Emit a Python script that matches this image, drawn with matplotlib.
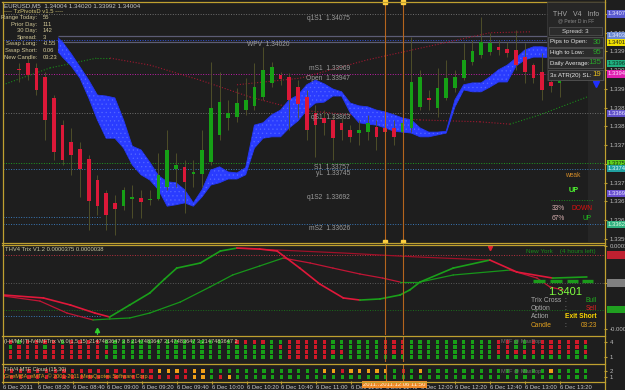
import matplotlib
matplotlib.use('Agg')
import matplotlib.pyplot as plt
from matplotlib.lines import Line2D
from matplotlib.patches import Rectangle
from matplotlib.transforms import blended_transform_factory as blend
import numpy as np

plt.rcParams['font.family'] = ['Liberation Sans', 'DejaVu Sans']
plt.rcParams['hatch.linewidth'] = 0.4

# ---------------- data ----------------
symbol_line = "EURUSD,M5  1.34004 1.34020 1.33992 1.34004"
bar_index = list(range(63))
open_ = [1.33958, 1.33970, 1.33960, 1.33941, 1.33896, 1.33838, 1.33802, 1.33787, 1.33766, 1.33721,
         1.33693, 1.33672, 1.33665, 1.33680, 1.33683, 1.33678, 1.33680, 1.33706, 1.33744, 1.33749,
         1.33734, 1.33734, 1.33759, 1.33817, 1.33853, 1.33855, 1.33870, 1.33879, 1.33898, 1.33928,
         1.33945, 1.33941, 1.33919, 1.33898, 1.33864, 1.33853, 1.33849, 1.33843, 1.33828, 1.33821,
         1.33823, 1.33834, 1.33832, 1.33832, 1.33823, 1.33832, 1.33877, 1.33896, 1.33875, 1.33896,
         1.33917, 1.33938, 1.33973, 1.33988, 1.33994, 1.34005, 1.34000, 1.33998, 1.33983, 1.33966,
         1.33951, 1.33930, 1.33928]
close_ = [1.33955, 1.33945, 1.33913, 1.33849, 1.33781, 1.33764, 1.33774, 1.33744, 1.33676, 1.33665,
          1.33646, 1.33659, 1.33700, 1.33685, 1.33674, 1.33680, 1.33732, 1.33785, 1.33753, 1.33717,
          1.33738, 1.33785, 1.33875, 1.33887, 1.33864, 1.33885, 1.33892, 1.33919, 1.33956, 1.33962,
          1.33936, 1.33892, 1.33883, 1.33828, 1.33838, 1.33843, 1.33810, 1.33828, 1.33813, 1.33828,
          1.33843, 1.33813, 1.33823, 1.33813, 1.33843, 1.33930, 1.33941, 1.33892, 1.33917, 1.33938,
          1.33941, 1.33977, 1.33996, 1.34015, 1.34013, 1.33998, 1.33992, 1.33966, 1.33951, 1.33938,
          1.33913, 1.33921, 1.33930]
high_ = [1.33970, 1.33981, 1.33970, 1.33951, 1.33902, 1.33849, 1.33832, 1.33802, 1.33774, 1.33732,
         1.33700, 1.33689, 1.33706, 1.33710, 1.33700, 1.33700, 1.33778, 1.33828, 1.33778, 1.33764,
         1.33764, 1.33828, 1.33973, 1.33951, 1.33892, 1.33917, 1.33938, 1.33970, 1.34005, 1.33973,
         1.33951, 1.33949, 1.33934, 1.33913, 1.33881, 1.33870, 1.33860, 1.33853, 1.33838, 1.33849,
         1.33860, 1.33849, 1.33845, 1.33849, 1.33860, 1.34026, 1.33956, 1.33913, 1.33960, 1.33977,
         1.33956, 1.34013, 1.34020, 1.34069, 1.34035, 1.34020, 1.34015, 1.34041, 1.34013, 1.33970,
         1.33992, 1.33945, 1.33934]
low_ = [1.33930, 1.33934, 1.33902, 1.33806, 1.33764, 1.33753, 1.33732, 1.33685, 1.33614, 1.33646,
        1.33614, 1.33604, 1.33657, 1.33640, 1.33640, 1.33668, 1.33678, 1.33700, 1.33706, 1.33650,
        1.33706, 1.33706, 1.33753, 1.33806, 1.33828, 1.33845, 1.33860, 1.33870, 1.33892, 1.33919,
        1.33924, 1.33828, 1.33853, 1.33806, 1.33770, 1.33817, 1.33764, 1.33806, 1.33802, 1.33796,
        1.33806, 1.33785, 1.33806, 1.33796, 1.33813, 1.33823, 1.33870, 1.33870, 1.33855, 1.33892,
        1.33909, 1.33934, 1.33966, 1.33981, 1.33988, 1.33988, 1.33983, 1.33956, 1.33928, 1.33928,
        1.33892, 1.33909, 1.33898]

cloud_x = [4.5] + list(range(5, 62))
cloud_hi = [1.34024, 1.34015, 1.33990, 1.33962, 1.33934, 1.33902, 1.33900, 1.33896, 1.33849, 1.33793,
            1.33785, 1.33759, 1.33730, 1.33717, 1.33715, 1.33700, 1.33672, 1.33700, 1.33742, 1.33749,
            1.33738, 1.33736, 1.33747, 1.33838, 1.33843, 1.33860, 1.33870, 1.33892, 1.33902, 1.33924,
            1.33934, 1.33926, 1.33915, 1.33909, 1.33885, 1.33879, 1.33877, 1.33870, 1.33866, 1.33860,
            1.33853, 1.33849, 1.33832, 1.33823, 1.33823, 1.33825, 1.33892, 1.33924, 1.33928, 1.33928,
            1.33941, 1.33956, 1.33966, 1.33981, 1.33998, 1.34005, 1.34005, 1.34002]
cloud_lo = [1.33994, 1.33983, 1.33964, 1.33938, 1.33896, 1.33849, 1.33810, 1.33810, 1.33789, 1.33753,
            1.33732, 1.33721, 1.33700, 1.33665, 1.33668, 1.33672, 1.33665, 1.33685, 1.33710, 1.33715,
            1.33723, 1.33723, 1.33732, 1.33789, 1.33810, 1.33813, 1.33813, 1.33832, 1.33847, 1.33870,
            1.33885, 1.33887, 1.33900, 1.33900, 1.33864, 1.33843, 1.33840, 1.33838, 1.33832, 1.33825,
            1.33823, 1.33821, 1.33813, 1.33813, 1.33817, 1.33821, 1.33877, 1.33913, 1.33909, 1.33909,
            1.33919, 1.33930, 1.33930, 1.33964, 1.33977, 1.33983, 1.33983, 1.33981]

level_names = ['q1S1', 'WPV', 'mS1', 'Open', 'qS1', 'S1', 'yL', 'q1S2', 'mS2']
level_prices = [1.34075, 1.34020, 1.33969, 1.33947, 1.33863, 1.33757, 1.33745, 1.33692, 1.33626]
spread_prices = [1.34028, 1.34015]

ma1_x = [-1.83, 3.56, 8.94, 10.44, 15.02, 20.76, 26.49, 32.22, 37.96, 45.99, 49.43, 52.87, 56.31, 59.75, 65.14]
ma1_p = [1.33924, 1.33960, 1.33981, 1.33981, 1.33966, 1.33934, 1.33898, 1.33870, 1.33860, 1.33849,
         1.33847, 1.33845, 1.33840, 1.33860, 1.33898]
ma2_x = [25.0, 32.22, 39.91, 45.99, 54.01, 58.6]
ma2_p = [1.33924, 1.33938, 1.33977, 1.34002, 1.34035, 1.34037]

price_ticks = [1.34075, 1.34035, 1.33995, 1.33955, 1.33915, 1.33875, 1.33835,
               1.33795, 1.33755, 1.33715, 1.33675, 1.33635, 1.33595]
axis_box_prices = [1.34075, 1.34030, 1.34014, 1.33969, 1.33947, 1.33863, 1.33757, 1.33745, 1.33692, 1.33626]

trix_fast_x = [-1.8, 2.8, 5.9, 8.7, 10.4, 12.7, 15.0, 16.7, 18.1, 20.8, 23.1, 25.0, 27.6, 29.6,
               32.2, 34.5, 37.2, 39.1, 41.4, 43.7, 44.8, 46.0, 49.8, 54.0, 57.1, 61.2, 65.1]
trix_fast_v = [-109, -136, -200, -273, -309, -200, -91, 36, 136, 182, 291, 318, 309, 291,
               136, -9, -136, -155, -145, -109, -64, 9, 136, 209, 100, 45, 55]
trix_slow_x = [-1.8, 2.4, 5.5, 8.5, 10.4, 12.7, 15.0, 18.5, 21.9, 24.5, 27.6, 30.3, 33.4, 36.0,
               39.1, 41.7, 43.7, 46.0, 49.8, 56.3, 59.4, 60.9, 62.4]
trix_slow_v = [-118, -164, -273, -336, -327, -318, -273, -173, -36, 73, 155, 227, 182, 136,
               82, 45, 9, 9, 73, 118, 45, -36, -64]
trix_htf_x = [25.0, 32.2, 37.2, 43.7, 46.0, 54.0]
trix_htf_v = [318, 291, 273, 245, 236, 209]
trix_levels = [0.000255, 0.0, -0.000245]
trix_ticks = [0.000335, 0.0, -0.00042]
trix_tick_labels = ['0.000335', '0.00', '-0.00042']
dash_start = [58.94, 60.89, 62.84, 64.56]
dash_end = [60.32, 62.27, 64.10, 65.83]

dot_cols = list(range(-2, 66))
dot_rows = [
    "rrgrrrrgrrrr" + "gggggggggggg" + "gggrrrrggrrrrrggggggrrrgg" + "gggggggg" + "rrggrrrrrrr",
    "rgrrrgrrrrrr" + "gggggggggggg" + "ggggggggrrrrrrggggggrrrgg" + "gggggggg" + "rrggrrrrrrg",
    "rrrrrrrrrrrrr" + "ggggggggggg" + "ggggggggg" + "rrrrrrr" + "gggg" + "rrr" + "gg" + "gggggggg" + "rrrrrrrrrgr",
    "rrrrrrrrrrrr" + "gggggggggggg" + "ggggggggg" + "rrrrr" + "ggggggggggg" + "g" * 19,
]
cloud_rows = [
    "r" * 18 + "oooroo" + "ggggggggggggg" + "oo" + "r" + "ooooo" + "g" + "r" + "g" + "o" + "g" * 14 + "o" + "gggg",
    "r" * 18 + "rrrroo" + "gro" + "g" * 22 + "g" * 19,
]

time_tick_bars = [-2, 2, 6, 10, 14, 18, 22, 26, 30, 34, 38, 42, 46, 50, 54, 58, 62]
time_tick_labels = ['6 Dec 2011', '6 Dec 08:20', '6 Dec 08:40', '6 Dec 09:00', '6 Dec 09:20',
                    '6 Dec 09:40', '6 Dec 10:00', '6 Dec 10:20', '6 Dec 10:40', '6 Dec 11:00',
                    '6 Dec 11:20', '6 Dec 11:40', '6 Dec 12:00', '6 Dec 12:20', '6 Dec 12:40',
                    '6 Dec 13:00', '6 Dec 13:20']
vline_bars = [42, 44]
vline_labels = ['2011.12.06 11:40', '2011.12.06 11:50']

pivot_labels = ['Range Today:', 'Prior Day:', '30 Day:', 'Spread:', 'Swap Long:', 'Swap Short:', 'New Candle:']
pivot_values = ['55', '111', '142', '3', '-0.55', '0.06', '03:23']
info_labels = ['Pips to Open:', 'High to Low:', 'Daily Average:', '3x ATR(20) SL:']
info_values = ['30', '95', '135', '19']

# ---------------- style ----------------
W, H = 625, 390
BG = '#1e1e1e'
GOLD = '#bfa030'
GRN = '#16a016'
RED = '#dc1838'
WICK = '#55552a'
XMIN, XMAX = -1.83, 67.09

fig = plt.figure(figsize=(W / 100, H / 100), dpi=100, facecolor=BG)


def pax(x0, y0, x1, y1):
    a = fig.add_axes([x0 / W, 1 - y1 / H, (x1 - x0) / W, (y1 - y0) / H])
    a.set_facecolor(BG)
    for s in a.spines.values():
        s.set_visible(False)
    a.set_xlim(XMIN, XMAX)
    a.set_xticks([])
    return a


def T(x, y, s, **kw):
    kw.setdefault('va', 'center')
    kw.setdefault('fontsize', 4.3)
    kw.setdefault('zorder', 7)
    return fig.text(x / W, 1 - y / H, s, **kw)


def R(x0, y0, x1, y1, **kw):
    fig.add_artist(Rectangle((x0 / W, 1 - y1 / H), (x1 - x0) / W, (y1 - y0) / H,
                             transform=fig.transFigure, **kw))


def L(x0, y0, x1, y1, **kw):
    fig.add_artist(Line2D([x0 / W, x1 / W], [1 - y0 / H, 1 - y1 / H], transform=fig.transFigure, **kw))


def slope_lines(a, xs, vs, up_col, dn_col, **kw):
    for k in range(len(xs) - 1):
        col = up_col if vs[k + 1] >= vs[k] else dn_col
        a.plot(xs[k:k + 2], vs[k:k + 2], color=col, **kw)


DOT = (0, (1, 1.6))

# ---------------- main price panel ----------------
ax = pax(3, 2, 604, 242)
ax.set_ylim(1.335886, 1.341006)
ax.axvspan(65.25, XMAX, ymin=0, ymax=0.675, color='#262626', zorder=0.2, lw=0)

level_colors = ['#6e6e6e', '#3050d8', None, '#c020a8', '#6e6e6e', '#209a20', '#3a78b8', None, '#3a78b8']
level_label_x = [37.96, 31.08, 37.96, 37.96, 37.96, 37.96, 37.96, 37.96, 37.96]
for name, p, col, lx in zip(level_names, level_prices, level_colors, level_label_x):
    if col:
        ax.axhline(p, color=col, lw=0.7, ls=DOT, zorder=1)
    ax.text(lx, p - 0.00002, f"{name}  {p:.5f}", ha='right', va='top', fontsize=4.8,
            color='#9c9c9c', zorder=8)
ax.hlines(1.33642, XMIN, 9.3, color='#3a78b8', lw=0.7, ls=DOT, zorder=1)
ax.hlines(spread_prices, 4.5, XMAX, color='#5c5c74', lw=0.9, zorder=1.5)

slope_lines(ax, ma1_x, ma1_p, '#1a8a1a', '#a01830', lw=0.8, ls=DOT, zorder=1.6)
ax.plot(ma2_x, ma2_p, color='#a01830', lw=0.8, ls=DOT, zorder=1.6)

ax.fill_between(cloud_x, cloud_lo, cloud_hi, facecolor='#2a3cff', edgecolor='#5468ff',
                hatch='....', lw=0, zorder=2)
ax.plot(cloud_x, cloud_hi, color='#2436f0', lw=0.6, zorder=2.1)
ax.plot(cloud_x, cloud_lo, color='#2436f0', lw=0.6, zorder=2.1)

o = np.array(open_)
c = np.array(close_)
hh = np.array(high_)
ll = np.array(low_)
xb = np.array(bar_index)
up = c >= o
bottom = np.minimum(o, c)
height = np.maximum(np.abs(c - o), 0.00003)
ax.vlines(xb, ll, hh, color=WICK, lw=0.6, zorder=4)
ax.bar(xb[up], height[up], bottom=bottom[up], width=0.42, color=GRN, lw=0, zorder=5)
ax.bar(xb[~up], height[~up], bottom=bottom[~up], width=0.42, color=RED, lw=0, zorder=5)

ax.plot([66.17], [1.33926], marker='v', ms=4.5, color='#2030ff', zorder=6, clip_on=False)

ax.yaxis.tick_right()
ax.set_yticks(price_ticks)
ax.set_yticklabels([f"{p:.5f}" for p in price_ticks])
ax.tick_params(axis='y', length=2, color=GOLD, labelsize=4.4, labelcolor='#bdbdbd', pad=2)

box_colors = ['#5a5ad0', '#6c8ad0', '#f0e000', '#20b080', '#e020b0', '#6050c8', '#60d020',
              '#20a0a0', '#6a50d0', '#30b080']
box_text = ['#e8e8ff', '#e8e8ff', '#202020', '#103020', '#ffe0ff', '#e8e8ff', '#103010',
            '#e0ffff', '#e8e8ff', '#e0ffe0']
trm = blend(ax.transAxes, ax.transData)
for p, bc, tc in zip(axis_box_prices, box_colors, box_text):
    ax.text(1.006, p, f"{p:.5f}", transform=trm, fontsize=4.2, color=tc, va='center', ha='left',
            bbox=dict(boxstyle='square,pad=0.18', fc=bc, ec='none'), clip_on=False, zorder=9)

# ---------------- trix panel ----------------
ax_t = pax(3, 244, 604, 335)
ax_t.set_ylim(-0.000473, 0.000355)
ax_t.axhline(trix_levels[0], color='#b83040', lw=0.7, ls=DOT)
ax_t.axhline(trix_levels[1], color='#5a5a5a', lw=0.7, ls=DOT)
ax_t.axhline(trix_levels[2], color='#1a701a', lw=0.7, ls=DOT)
ax_t.hlines(-0.0003, XMIN, 9.3, color='#3a78b8', lw=0.7, ls=DOT)
fx = trix_fast_x
fv = [v * 1e-6 for v in trix_fast_v]
sx = trix_slow_x
sv = [v * 1e-6 for v in trix_slow_v]
slope_lines(ax_t, sx, sv, '#17961a', '#c01535', lw=0.9, zorder=3)
slope_lines(ax_t, fx, fv, '#1aa01a', '#e0183a', lw=1.2, zorder=3.2)
ax_t.plot(trix_htf_x, [v * 1e-6 for v in trix_htf_v], color='#a01028', lw=0.9, zorder=2.8)
ax_t.hlines([0.000018] * 4, dash_start, dash_end, color='#1a9a1a', lw=2.4, zorder=4)
ax_t.plot([9, 9], [-0.000462, -0.000425], color='#30d030', lw=0.8)
ax_t.plot([9], [-0.000425], marker='^', ms=3, color='#30d030')
ax_t.plot([54, 54], [0.000350, 0.000318], color='#e02030', lw=0.8, clip_on=False)
ax_t.plot([54], [0.000318], marker='v', ms=3, color='#e02030')
ax_t.yaxis.tick_right()
ax_t.set_yticks(trix_ticks)
ax_t.set_yticklabels(trix_tick_labels)
ax_t.tick_params(axis='y', length=2, color=GOLD, labelsize=4.3, labelcolor='#bdbdbd', pad=2)
trt = blend(ax_t.transAxes, ax_t.transData)
for v, bc in zip(trix_levels, ['#c02030', '#808080', '#20a020']):
    ax_t.text(1.006, v, f"{v:.5f}", transform=trt, fontsize=4.2, color=bc, va='center', ha='left',
              bbox=dict(boxstyle='square,pad=0.18', fc=bc, ec='none'), clip_on=False, zorder=9)

# ---------------- dots panel ----------------
dot_color = {'g': '#17a017', 'r': '#d01828', 'o': '#f0a018'}
ax_d = pax(3, 336, 604, 362)
ax_d.set_ylim(0, 5.2)
for r, row in enumerate(dot_rows):
    ax_d.scatter(dot_cols, [4 - r] * len(dot_cols), marker='s', s=5.5,
                 c=[dot_color[ch] for ch in row], linewidths=0, zorder=3)
ax_d.yaxis.tick_right()
ax_d.set_yticks([4, 1])
ax_d.set_yticklabels(['4', '1'])
ax_d.tick_params(axis='y', length=2, color=GOLD, labelsize=4.3, labelcolor='#bdbdbd', pad=2)

# ---------------- MTF cloud panel ----------------
ax_c = pax(3, 364, 604, 381)
ax_c.set_ylim(0.33, 3.17)
for r, row in enumerate(cloud_rows):
    ax_c.scatter(dot_cols, [2 - r] * len(dot_cols), marker='s', s=5.5,
                 c=[dot_color[ch] for ch in row], linewidths=0, zorder=3)
ax_c.yaxis.tick_right()
ax_c.set_yticks([2, 1])
ax_c.set_yticklabels(['2', '1'])
ax_c.tick_params(axis='y', length=2, color=GOLD, labelsize=4.3, labelcolor='#bdbdbd', pad=2)
ax_c.set_xticks(time_tick_bars)
ax_c.set_xticklabels(time_tick_labels)
ax_c.tick_params(axis='x', length=2, color=GOLD, labelsize=4.2, labelcolor='#c8c8c8', pad=1.2)
for lab in ax_c.get_xticklabels():
    lab.set_ha('left')
trx = blend(ax_c.transData, ax_c.transAxes)
for b, s in zip(vline_bars, vline_labels):
    ax_c.text(b, -0.22, s, transform=trx, ha='center', va='center', fontsize=4.2, color='#fff4dc',
              bbox=dict(boxstyle='square,pad=0.2', fc='#f08a28', ec='none'), clip_on=False, zorder=9)

# vertical lines through all panels
for a in (ax, ax_t, ax_d, ax_c):
    for b in vline_bars:
        a.axvline(b, color='#b5651d', lw=0.8, zorder=6)
for b in vline_bars:
    ax.plot([b], [1.341006], 's', ms=2.2, color='#ffd040', clip_on=False, zorder=10)
    ax.plot([b], [1.335886], 's', ms=2.2, color='#ffd040', clip_on=False, zorder=10)

# ---------------- borders ----------------
for yy in (1.5, 242.5, 244.5, 335.5, 363.5, 381.5):
    L(2, yy, 604.5, yy, color=GOLD, lw=0.9, zorder=4)
L(2.5, 1.5, 2.5, 381.5, color=GOLD, lw=0.9, zorder=4)
L(604.5, 0, 604.5, 390, color=GOLD, lw=0.9, zorder=4)

# ---------------- texts: top-left ----------------
T(4, 5.5, symbol_line, color='#c8c8c8', fontsize=4.5)
T(4, 11.5, '---- TzPivotsD v1.5 ----', color='#d6c878', fontsize=4.2)
for k, (lab, val) in enumerate(zip(pivot_labels, pivot_values)):
    yy = 17.5 + k * 6.6
    T(37, yy, lab, ha='right', color='#d2c898', fontsize=4.2)
    T(43, yy, val, ha='left', color='#d2c898', fontsize=4.2)

# ---------------- info box (top right) ----------------
R(547, 2, 604, 80, fc='#262626', ec='#3c3c3c', lw=0.5, zorder=5)
T(576, 14, 'THV   V4   Info', ha='center', color='#a8a8a8', fontsize=5)
T(576, 20.5, '@ Peter D in FF', ha='center', color='#8a8a8a', fontsize=3.6)
R(549, 27, 602, 35, fc='#2c2c2c', ec='#555555', lw=0.5, zorder=5)
T(575, 31, 'Spread: 3', ha='center', color='#d8d8d8', fontsize=4.4)
for k, (lab, val) in enumerate(zip(info_labels, info_values)):
    cy = [42, 52.5, 63, 75][k]
    R(548, cy - 4.5, 603, cy + 4.5, fc='#2c2c2c', ec='#5a5a5a', lw=0.5, zorder=5)
    T(550, cy, lab, ha='left', color='#e6e6e6', fontsize=4.4)
    T(601, cy, val, ha='right', color='#e8c020' if k == 3 else '#2aa52a', fontsize=5.6)

# ---------------- lower right main panel texts ----------------
T(565, 176, 'weak', ha='left', color='#d08a28', fontsize=4.8)
T(574, 191, 'UP', ha='center', color='#50ff30', fontsize=5.2, fontweight='bold')
L(551, 200, 594, 200, color='#1a8a1a', lw=0.7, ls=DOT, zorder=6)
T(552, 208, '33%', ha='left', color='#d8b0b0', fontsize=4.8)
T(571, 208, 'DOWN', ha='left', color='#e01010', fontsize=4.8)
T(552, 219, '67%', ha='left', color='#d8b0b0', fontsize=4.8)
T(592, 219, 'UP', ha='right', color='#20c020', fontsize=4.8)

# ---------------- trix panel texts ----------------
T(5, 249.5, 'THV4 Trix V1.2 0.0000375 0.0000038', color='#c8c8a0', fontsize=4.2)
T(526, 251, 'New York    (4 hours left)', ha='left', color='#1a8a1a', fontsize=4.6)
T(565, 292, '1.3401', ha='center', color='#80ff40', fontsize=8)
rows_t = [('Trix Cross', 'Bull', '#20b020'), ('Option', 'Sell', '#e02020'),
          ('Action', 'Exit Short', '#ffd800'), ('Candle', '03:23', '#e0a020')]
for k, (lab, val, col) in enumerate(rows_t):
    yy = 300.5 + k * 8.2
    T(531, yy, lab, ha='left', color='#e0a020' if k == 3 else '#a8a8a8', fontsize=4.8)
    T(565, yy, ':', ha='center', color='#a8a8a8', fontsize=4.8)
    T(597, yy, val, ha='right', color=col, fontsize=4.8, fontweight='bold' if k == 2 else 'normal')

# ---------------- indicator titles ----------------
T(4, 342, '(H4/M4)THV4MFTrix V6.0(1,5,15) 2147483647 3 8 2147483647 2147483647 3 2147483647 2',
  color='#d0d0a8', fontsize=4.0)
T(501, 342, 'MTF @ MaxPop', ha='left', color='#707070', fontsize=4.0)
T(4, 370, 'THV4 MTF Cloud (15,30)', color='#d0d0a8', fontsize=4.0)
T(4, 376.5, 'GiveMBA, eMTA, \u00a9 2001-2011 MetaQuotes Software Corp.', color='#e0a020', fontsize=4.0)
T(501, 372, 'MTF @ MaxPop', ha='left', color='#707070', fontsize=4.0)

fig.savefig('out.png', dpi=100, facecolor=BG)
